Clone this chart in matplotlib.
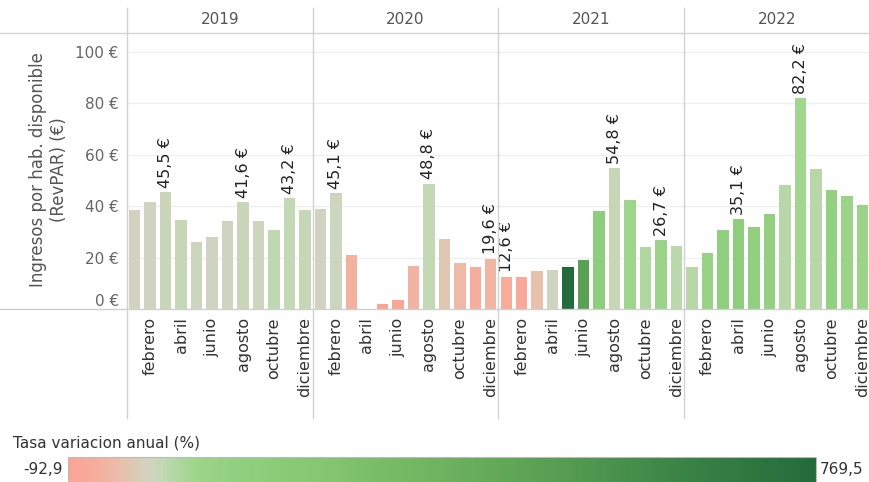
import numpy as np
import matplotlib
matplotlib.use('Agg')
import matplotlib.pyplot as plt
from matplotlib import transforms
from matplotlib.colors import LinearSegmentedColormap, Normalize
from matplotlib.colorbar import ColorbarBase
from matplotlib.lines import Line2D

years = ['2019', '2020', '2021', '2022']
months = ['enero', 'febrero', 'marzo', 'abril', 'mayo', 'junio', 'julio',
          'agosto', 'septiembre', 'octubre', 'noviembre', 'diciembre']

# RevPAR (€) per month
revpar_2019 = [38.5, 41.5, 45.5, 34.6, 26.2, 28.1, 34.1, 41.6, 34.1, 30.7, 43.2, 38.5]
revpar_2020 = [38.9, 45.1, 21.1, 0.0, 1.9, 3.5, 16.7, 48.8, 27.2, 17.8, 16.3, 19.6]
revpar_2021 = [12.6, 12.3, 14.8, 15.3, 16.3, 19.2, 38.1, 54.8, 42.4, 24.1, 26.7, 24.6]
revpar_2022 = [16.2, 21.7, 30.6, 35.1, 32.0, 37.1, 48.4, 82.2, 54.4, 46.4, 44.0, 40.5]

# annual variation (%)
var_2019 = [0, 3, 10, 14, 6, 2, 3, 9, 6, 20, 15, 12]
var_2020 = [1, 8, -54, 0, -92.9, -88, -51, 17, -20, -42, -62, -49]
var_2021 = [-67, -73, -30, 2, 769.5, 450, 128, 12, 56, 35, 63, 24]
var_2022 = [27, 76, 107, 129, 96, 93, 27, 51, 28, 93, 65, 65]

# which bars carry a value label
labelled = [2, 7, 10, 13, 19, 23, 24, 31, 34, 39, 43]

var_min, var_max = -92.9, 769.5

revpar = revpar_2019 + revpar_2020 + revpar_2021 + revpar_2022
variation = var_2019 + var_2020 + var_2021 + var_2022
x = np.arange(len(revpar))

stops = [(-92.9, '#fba494'), (-60, '#f5ae9e'), (-40, '#eebaa8'), (-20, '#dfc8b3'),
         (0, '#d0d4c1'), (15, '#c3d8b5'), (30, '#b3d7a3'), (50, '#9fd68c'),
         (100, '#91d07f'), (200, '#84c671'), (340, '#6eb25f'), (470, '#579e52'),
         (600, '#3d8647'), (769.5, '#236b3b')]
cmap = LinearSegmentedColormap.from_list(
    'tasa', [((v - var_min) / (var_max - var_min), c) for v, c in stops])
norm = Normalize(var_min, var_max)

fig = plt.figure(figsize=(8.7, 4.82), dpi=100)
W, H = 870, 482

ax = fig.add_axes([127 / W, 1 - 309 / H, (870 - 127) / W, (309 - 33) / H])
ax.bar(x, revpar, width=0.74, color=cmap(norm(variation)), zorder=2)
ax.set_xlim(-0.5, 47.5)
ax.set_ylim(0, 107.4)

for i in labelled:
    ax.annotate('%s €' % ('%.1f' % revpar[i]).replace('.', ','), (x[i], revpar[i]),
                xytext=(0, 3), textcoords='offset points', rotation=90,
                ha='center', va='bottom', fontsize=11.5, color='#222222')

yt = [0, 20, 40, 60, 80, 100]
ax.set_yticks(yt)
ax.set_yticklabels(['%d €' % v for v in yt], fontsize=11, color='#666666')
ax.get_yticklabels()[0].set_va('bottom')
ax.tick_params(axis='y', length=0, pad=6)
for v in yt[1:]:
    ax.axhline(v, color='#efefef', lw=1, zorder=0)

xt = [i for i in x if i % 2 == 1]
ax.set_xticks(xt)
ax.set_xticklabels([months[i % 12] for i in xt], rotation=90, fontsize=11.5,
                   color='#333333', va='top', ha='center')
ax.tick_params(axis='x', length=0, pad=6)

for s in ax.spines.values():
    s.set_visible(False)

ax.set_ylabel('Ingresos por hab. disponible\n(RevPAR) (€)', fontsize=12,
              color='#555555')
ax.yaxis.set_label_coords(-59 / 743, 0.504)

# panel headers and separators
bt = transforms.blended_transform_factory(ax.transData, fig.transFigure)
for k, yr in enumerate(years):
    ax.text(k * 12 + 5.5, 1 - 20 / H, yr, transform=bt, ha='center', va='center',
            fontsize=11, color='#555555')
    fig.add_artist(Line2D([k * 12 - 0.5] * 2, [1 - 8 / H, 1 - 418 / H], transform=bt,
                          color='#d2d2d2', lw=1))
fig.add_artist(Line2D([0, 1], [1 - 33 / H] * 2, color='#d2d2d2', lw=1))
fig.add_artist(Line2D([0, 1], [1 - 309 / H] * 2, color='#cfcfcf', lw=1))

# colour legend
fig.text(13 / W, 1 - 443 / H, 'Tasa variacion anual (%)', fontsize=11,
         color='#333333', va='center', ha='left')
cax = fig.add_axes([68 / W, -0.02, (816 - 68) / W, 25 / H + 0.02])
cb = ColorbarBase(cax, cmap=cmap, norm=norm, orientation='horizontal')
cb.set_ticks([])
cb.outline.set_edgecolor('#bbbbbb')
cax.plot([0, 0], [0.02, 0.2], color='black', lw=1)
fig.text(63 / W, 1 - 470 / H, '-92,9', fontsize=11, color='#333333',
         ha='right', va='center')
fig.text(820 / W, 1 - 470 / H, '769,5', fontsize=11, color='#333333',
         ha='left', va='center')

fig.savefig('out.png', dpi=100)
